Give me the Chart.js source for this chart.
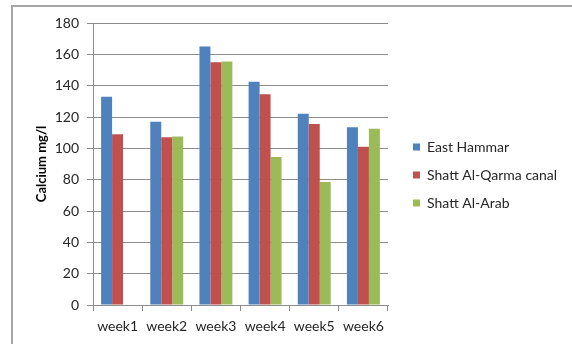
<!DOCTYPE html>
<html>
<head>
<meta charset="utf-8">
<script src="https://cdn.jsdelivr.net/npm/chart.js@4"></script>
<style>
  body { margin: 0; background: #fff; }
  #frame { position: absolute; left: 11px; top: 5px; width: 600px; height: 400px;
           border-left: 2px solid #a6a6a6; border-top: 2px solid #a6a6a6; }
  #myChart { position: absolute; left: 0; top: 0; }
</style>
</head>
<body>
<div id="frame"></div>
<canvas id="myChart" width="572" height="344"></canvas>
<script>
const weeks = ['week1', 'week2', 'week3', 'week4', 'week5', 'week6']
const eastHammar = [133, 117, 165, 142.5, 122, 113.5]
const shattQarma = [109, 107, 155, 134.5, 115.5, 101]
const shattArab = [null, 107.5, 155.5, 94.5, 78.5, 112.5]
const yTicks = [0, 20, 40, 60, 80, 100, 120, 140, 160, 180]

const gridColor = '#8c8c8c'
const textColor = '#262626'

Chart.defaults.font.family = 'Lato'
Chart.defaults.color = textColor

// legend sits a bit further right and higher than chart.js puts it
const legendSpot = {
  id: 'legendSpot',
  afterInit(chart) {
    const lg = chart.legend
    const fit = lg.fit
    lg.fit = function () { fit.call(this); this.width = 184 }
  },
  afterLayout(chart) {
    const lg = chart.legend
    lg.left += 11
    lg.right += 11
    lg.top -= 8.5
    lg.bottom -= 8.5
  }
}

new Chart(document.getElementById('myChart'), {
  type: 'bar',
  data: {
    labels: weeks,
    datasets: [
      { label: 'East Hammar', data: eastHammar, backgroundColor: '#4f81bd' },
      { label: 'Shatt Al-Qarma canal', data: shattQarma, backgroundColor: '#c0504d' },
      { label: 'Shatt Al-Arab', data: shattArab, backgroundColor: '#9bbb59' }
    ]
  },
  options: {
    responsive: false,
    animation: false,
    devicePixelRatio: 1,
    layout: { padding: { top: 23, left: 0, right: 0, bottom: 0 } },
    datasets: { bar: { categoryPercentage: 0.67, barPercentage: 1 } },
    plugins: {
      tooltip: { enabled: false },
      legend: {
        position: 'right',
        labels: { boxWidth: 7, boxHeight: 7, padding: 14, font: { size: 14 }, color: textColor }
      }
    },
    scales: {
      x: {
        afterFit: s => { s.height = 39 },
        grid: { offset: true, drawOnChartArea: false, tickLength: 6, color: gridColor },
        border: { color: gridColor },
        ticks: { padding: 7, font: { size: 14 }, color: textColor }
      },
      y: {
        min: 0,
        max: 180,
        afterFit: s => { s.width = 93 },
        afterBuildTicks: s => { s.ticks = yTicks.map(v => ({ value: v })) },
        grid: { tickLength: 6, color: gridColor },
        border: { color: gridColor },
        ticks: { padding: 8, font: { size: 14 }, color: textColor },
        title: {
          display: true,
          text: 'Calcium mg/l',
          font: { size: 13, weight: 'bold' },
          color: '#000',
          padding: { top: 34, bottom: 0 }
        }
      }
    }
  },
  plugins: [legendSpot]
})
</script>
</body>
</html>
